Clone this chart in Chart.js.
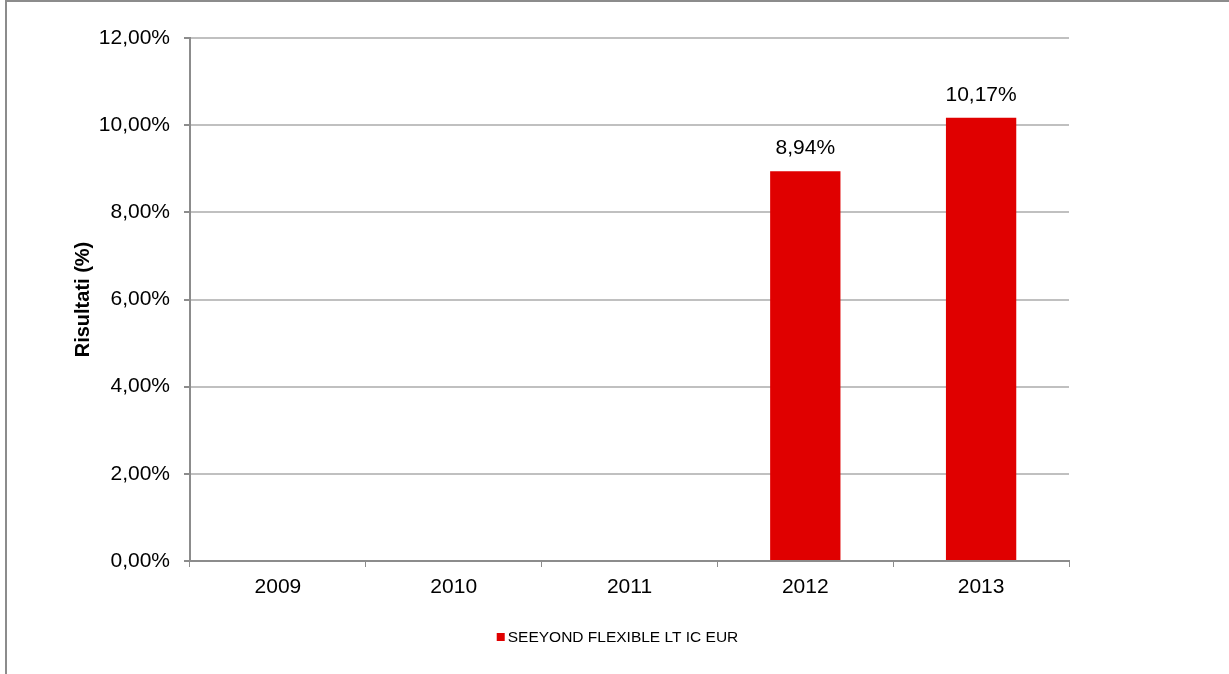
<!DOCTYPE html>
<html lang="it">
<head>
    <meta charset="UTF-8">
    <title>Risultati annuali</title>
    <script src="https://cdn.jsdelivr.net/npm/chart.js"></script>
    <style>
        html, body {
            margin: 0;
            padding: 0;
            background: #ffffff;
        }

        .wrap {
            position: relative;
            width: 1229px;
            height: 674px;
        }
    </style>
</head>
<body>
    <div class="wrap">
        <canvas id="risultatiChart" width="1229" height="674"></canvas>
    </div>

    <script>
        const years = ['2009', '2010', '2011', '2012', '2013'];
        const risultati = [null, null, null, 8.94, 10.17];
        const seriesName = 'SEEYOND FLEXIBLE LT IC EUR';
        const yTicks = [0, 2, 4, 6, 8, 10, 12];

        const FONT = '"Liberation Sans", Arial, sans-serif';
        const fmt = v => v.toFixed(2).replace('.', ',') + '%';

        // outer frame (only left + top edge visible in the original)
        const framePlugin = {
            id: 'frame',
            beforeDraw(chart) {
                const ctx = chart.ctx;
                ctx.save();
                ctx.strokeStyle = '#8c8c8c';
                ctx.lineWidth = 2;
                ctx.beginPath();
                ctx.moveTo(6, chart.height);
                ctx.lineTo(6, 1);
                ctx.lineTo(chart.width, 1);
                ctx.stroke();
                ctx.restore();
            }
        };

        // value labels above the bars
        const barLabels = {
            id: 'barLabels',
            afterDatasetsDraw(chart) {
                const ctx = chart.ctx;
                const meta = chart.getDatasetMeta(0);
                ctx.save();
                ctx.font = '21px ' + FONT;
                ctx.fillStyle = '#000000';
                ctx.textAlign = 'center';
                ctx.textBaseline = 'middle';
                meta.data.forEach((bar, i) => {
                    const v = risultati[i];
                    if (v === null) return;
                    ctx.fillText(fmt(v), bar.x, bar.y - 23);
                });
                ctx.restore();
            }
        };

        // legend centred on the whole canvas, like the original
        const pageLegend = {
            id: 'pageLegend',
            afterDraw(chart) {
                const ctx = chart.ctx;
                const ds = chart.data.datasets[0];
                ctx.save();
                ctx.font = '15.5px ' + FONT;
                const tw = ctx.measureText(ds.label).width;
                const box = 8, gap = 3;
                const total = box + gap + tw;
                const x0 = (chart.width - total) / 2 + 3;
                const yc = 637;
                ctx.fillStyle = ds.backgroundColor;
                ctx.fillRect(x0, yc - box / 2, box, box);
                ctx.fillStyle = '#000000';
                ctx.textBaseline = 'middle';
                ctx.textAlign = 'left';
                ctx.fillText(ds.label, x0 + box + gap, yc + 1);
                ctx.restore();
            }
        };

        Chart.defaults.font.family = FONT;
        Chart.defaults.color = '#000000';

        new Chart(document.getElementById('risultatiChart'), {
            type: 'bar',
            data: {
                labels: years,
                datasets: [{
                    label: seriesName,
                    data: risultati,
                    backgroundColor: '#e00000',
                    borderColor: '#e00000',
                    borderWidth: 0,
                    barPercentage: 0.4,
                    categoryPercentage: 1.0
                }]
            },
            options: {
                responsive: false,
                animation: false,
                layout: {
                    padding: { left: 71, right: 160, top: 38, bottom: 50 }
                },
                plugins: {
                    legend: { display: false },
                    tooltip: { enabled: false }
                },
                scales: {
                    x: {
                        afterFit(scale) { scale.height = 63; },
                        grid: {
                            offset: true,
                            drawOnChartArea: false,
                            drawTicks: true,
                            tickLength: 6,
                            color: '#8c8c8c'
                        },
                        border: { color: '#8c8c8c', width: 2 },
                        ticks: { font: { size: 21 }, padding: 8 }
                    },
                    y: {
                        min: 0,
                        max: 12,
                        afterFit(scale) { scale.width = 119; },
                        afterBuildTicks(scale) {
                            scale.ticks = yTicks.map(v => ({ value: v }));
                        },
                        grid: {
                            color: '#c0c0c0',
                            lineWidth: 2,
                            tickLength: 6,
                            tickColor: '#8c8c8c'
                        },
                        border: { color: '#8c8c8c', width: 2 },
                        ticks: {
                            font: { size: 21 },
                            padding: 14,
                            callback: v => fmt(v)
                        },
                        title: {
                            display: true,
                            text: 'Risultati (%)',
                            font: { size: 20, weight: 'bold' },
                            padding: 0
                        }
                    }
                }
            },
            plugins: [framePlugin, barLabels, pageLegend]
        });
    </script>
</body>
</html>
